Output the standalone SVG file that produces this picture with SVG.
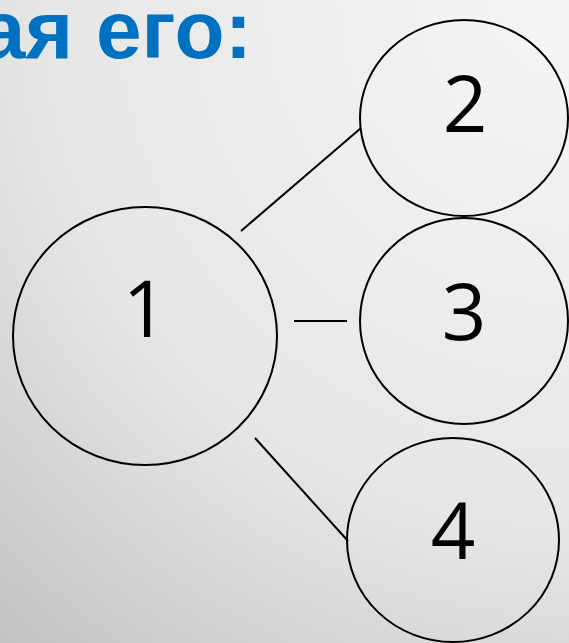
<svg xmlns="http://www.w3.org/2000/svg" width="569" height="643" viewBox="0 0 569 643">
<defs>
<radialGradient id="bg" gradientUnits="userSpaceOnUse" cx="569" cy="0" r="860">
<stop offset="0" stop-color="#f6f6f6"/>
<stop offset="0.62" stop-color="#e6e6e6"/>
<stop offset="1" stop-color="#c3c3c3"/>
</radialGradient>
<style>
.n{fill:none;stroke:#000;stroke-width:2}
.t{font-family:"Open Sans","Liberation Sans",sans-serif;font-size:78px;fill:#000;text-anchor:middle}
.c{stroke:#000;stroke-width:2}
</style>
</defs>
<rect width="569" height="643" fill="url(#bg)"/>
<text x="252" y="58" font-family="Liberation Sans, Arial, sans-serif" font-weight="bold" font-size="82" fill="#0070c0" text-anchor="end">ая его:</text>
<g id="connectors">
<line class="c" x1="241" y1="231" x2="361" y2="128"/>
<line class="c" x1="294" y1="321" x2="347" y2="321"/>
<line class="c" x1="255" y1="438" x2="348" y2="541"/>
</g>
<g id="node1"><ellipse class="n" cx="145" cy="336" rx="132" ry="129"/><text class="t" x="145" y="337">1</text></g>
<g id="node2"><ellipse class="n" cx="464" cy="118" rx="104" ry="98"/><text class="t" x="465" y="132">2</text></g>
<g id="node3"><ellipse class="n" cx="464" cy="321" rx="104" ry="103"/><text class="t" x="464" y="340">3</text></g>
<g id="node4"><ellipse class="n" cx="453" cy="540" rx="106" ry="102"/><text class="t" x="453" y="559">4</text></g>
</svg>
